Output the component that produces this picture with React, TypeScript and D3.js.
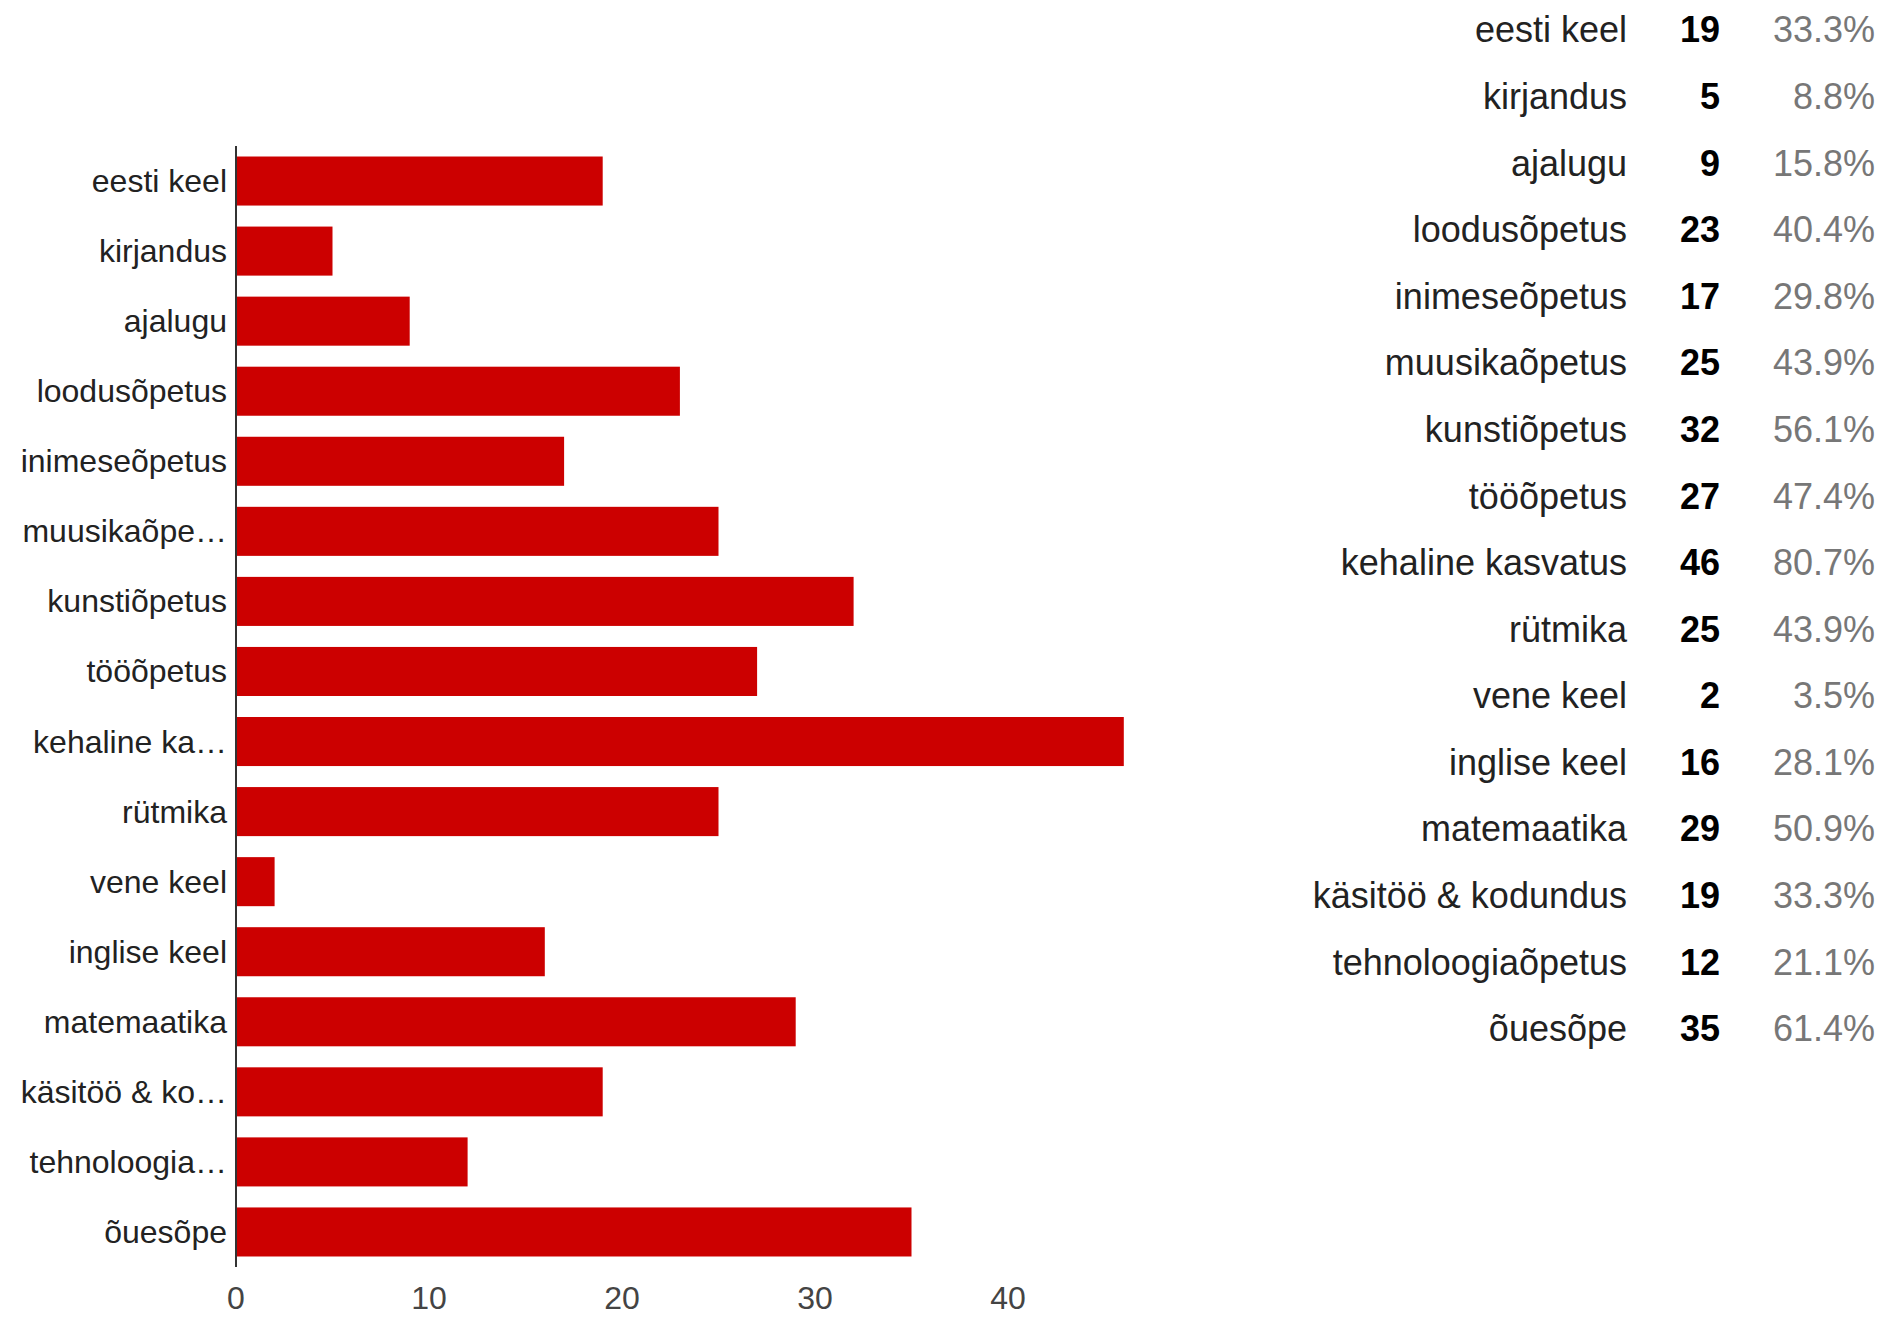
import * as d3 from "d3"

const categories = [
  "eesti keel",
  "kirjandus",
  "ajalugu",
  "loodusõpetus",
  "inimeseõpetus",
  "muusikaõpetus",
  "kunstiõpetus",
  "tööõpetus",
  "kehaline kasvatus",
  "rütmika",
  "vene keel",
  "inglise keel",
  "matemaatika",
  "käsitöö & kodundus",
  "tehnoloogiaõpetus",
  "õuesõpe",
]

// labels as shown on the axis (long ones are cut)
const axisLabels = [
  "eesti keel",
  "kirjandus",
  "ajalugu",
  "loodusõpetus",
  "inimeseõpetus",
  "muusikaõpe…",
  "kunstiõpetus",
  "tööõpetus",
  "kehaline ka…",
  "rütmika",
  "vene keel",
  "inglise keel",
  "matemaatika",
  "käsitöö & ko…",
  "tehnoloogia…",
  "õuesõpe",
]

const counts = [19, 5, 9, 23, 17, 25, 32, 27, 46, 25, 2, 16, 29, 19, 12, 35]
const percents = [
  "33.3%", "8.8%", "15.8%", "40.4%", "29.8%", "43.9%", "56.1%", "47.4%",
  "80.7%", "43.9%", "3.5%", "28.1%", "50.9%", "33.3%", "21.1%", "61.4%",
]
const xTicks = [0, 10, 20, 30, 40]

const W = 1883
const H = 1318
const font = "Arial, 'Liberation Sans', sans-serif"

const App = () => {
  const x = d3.scaleLinear().domain([0, 50]).range([236, 1201])
  const y = d3
    .scaleBand<string>()
    .domain(categories)
    .range([146, 1267])
    .paddingInner(0.3)
    .paddingOuter(0.15)

  const rowY = d3
    .scaleBand<string>()
    .domain(categories)
    .range([-3.3, 1062])
    .paddingInner(0)

  return (
    <svg
      width={W}
      height={H}
      style={{ position: "absolute", left: 0, top: 0, background: "#fff" }}
    >
      <g>
        {categories.map((c, i) => (
          <rect
            key={c}
            x={x(0)}
            y={y(c)}
            width={x(counts[i]) - x(0)}
            height={y.bandwidth()}
            fill="#cc0000"
          />
        ))}
      </g>
      <line x1={x(0)} x2={x(0)} y1={146} y2={1267} stroke="#333" strokeWidth={2} />
      <g fontFamily={font} fontSize={32} fill="#222">
        {categories.map((c, i) => (
          <text
            key={c}
            x={227}
            y={(y(c) || 0) + y.bandwidth() / 2}
            textAnchor="end"
            dominantBaseline="central"
          >
            {axisLabels[i]}
          </text>
        ))}
      </g>
      <g fontFamily={font} fontSize={32} fill="#444">
        {xTicks.map((t) => (
          <text key={t} x={x(t)} y={1309} textAnchor="middle">
            {t}
          </text>
        ))}
      </g>
      <g fontFamily={font} fontSize={36}>
        {categories.map((c, i) => {
          const cy = (rowY(c) || 0) + rowY.bandwidth() / 2
          return (
            <g key={c}>
              <text x={1627} y={cy} textAnchor="end" dominantBaseline="central" fill="#222">
                {c}
              </text>
              <text
                x={1720}
                y={cy}
                textAnchor="end"
                dominantBaseline="central"
                fill="#000"
                fontWeight="bold"
              >
                {counts[i]}
              </text>
              <text x={1875} y={cy} textAnchor="end" dominantBaseline="central" fill="#777">
                {percents[i]}
              </text>
            </g>
          )
        })}
      </g>
    </svg>
  )
}

export default App
